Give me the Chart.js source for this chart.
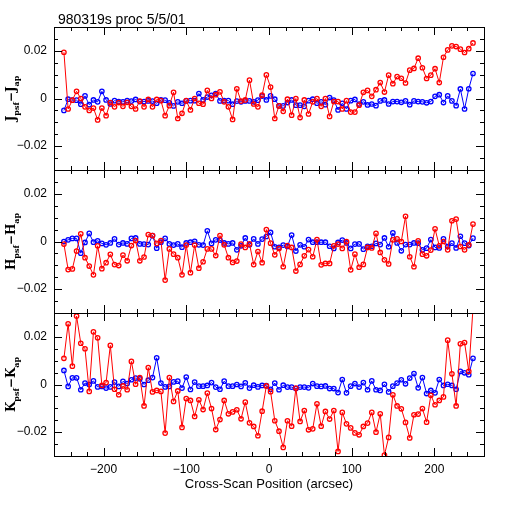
<!doctype html>
<html>
<head>
<script src="https://cdn.jsdelivr.net/npm/chart.js@4/dist/chart.umd.min.js"></script>
<style>
body { margin: 0; background: #fff; }
#wrap { position: relative; width: 512px; height: 512px; }
canvas { position: absolute; left: 0; top: 0; }
</style>
</head>
<body>
<div id="wrap">
	<canvas id="panelJ" width="512" height="512"></canvas>
	<canvas id="panelH" width="512" height="512"></canvas>
	<canvas id="panelK" width="512" height="512"></canvas>
</div>
<script>
// cross-scan positions (arcsec)
var xPos = [-248.0, -242.9, -237.8, -232.7, -227.6, -222.5, -217.4, -212.3, -207.2, -202.1,
	-197.0, -191.9, -186.8, -181.7, -176.6, -171.5, -166.4, -161.3, -156.2, -151.1,
	-146.0, -140.9, -135.8, -130.7, -125.6, -120.5, -115.4, -110.3, -105.2, -100.1,
	-95.0, -89.9, -84.8, -79.7, -74.6, -69.5, -64.4, -59.3, -54.2, -49.1,
	-44.0, -38.9, -33.8, -28.7, -23.6, -18.5, -13.4, -8.3, -3.2, 1.9,
	7.0, 12.1, 17.2, 22.3, 27.4, 32.5, 37.6, 42.7, 47.8, 52.9,
	58.0, 63.1, 68.2, 73.3, 78.4, 83.5, 88.6, 93.7, 98.8, 103.9,
	109.0, 114.1, 119.2, 124.3, 129.4, 134.5, 139.6, 144.7, 149.8, 154.9,
	160.0, 165.1, 170.2, 175.3, 180.4, 185.5, 190.6, 195.7, 200.8, 205.9,
	211.0, 216.1, 221.2, 226.3, 231.4, 236.5, 241.6, 246.7];

var jRed = [0.0194, -0.0044, -0.0007, 0.003, 0, -0.0035, -0.005, -0.004, -0.009, -0.004,
	-0.0072, -0.0017, -0.0035, -0.0017, -0.0033, -0.0016, -0.0033, -0.0044, -0.0011, -0.0035,
	-0.0004, -0.0035, -0.0004, -0.0009, -0.0072, -0.003, 0.0026, -0.0084, -0.0062, -0.0009,
	-0.0048, 0, -0.002, -0.0024, 0.0034, 0, 0.0016, 0.0028, -0.0014, -0.0035,
	-0.0088, 0.0041, -0.0011, -0.0006, 0.0077, -0.0023, -0.0035, 0.0014, 0.0099, 0.0048,
	-0.0084, -0.0031, -0.0054, -0.0003, -0.007, 0, -0.008, -0.0006, -0.0065, -0.0014,
	0, -0.0033, 0, -0.0075, -0.0013, -0.0013, -0.0044, -0.0009, -0.0057, -0.0057,
	-0.0028, 0.0026, 0.0034, 0.0009, 0.0037, 0.0067, 0.0027, 0.0098, 0.0062, 0.0092,
	0.0085, 0.0065, 0.0119, 0.0126, 0.0169, 0.0129, 0.0084, 0.0098, 0.0125, 0.0067,
	0.0173, 0.0204, 0.0221, 0.0218, 0.0207, 0.0193, 0.0209, 0.0233];
var jBlue = [-0.005, -0.0003, -0.0007, -0.0007, -0.0024, 0.0011, -0.0026, -0.0006, -0.0014, 0.003,
	-0.0006, -0.0023, -0.0009, -0.0013, -0.0014, -0.0009, -0.0011, -0.0004, -0.0013, -0.0013,
	-0.001, -0.0011, -0.002, -0.0006, -0.0007, -0.0018, -0.0031, -0.0014, -0.002, -0.001,
	-0.0009, -0.0009, 0.0021, -0.0006, 0.0006, 0.0013, 0.0021, -0.001, -0.0009, -0.0009,
	-0.0024, -0.0011, -0.0014, -0.001, -0.001, -0.0014, -0.0007, 0.001, -0.0006, 0.0011,
	-0.0003, -0.0031, -0.0031, -0.0017, -0.0006, -0.0028, -0.0028, -0.0033, -0.0009, -0.0003,
	-0.002, -0.0014, -0.0026, 0.0004, -0.0007, -0.0048, -0.002, -0.0044, -0.0009, -0.0004,
	-0.0023, -0.0014, -0.0027, -0.0023, -0.003, -0.001, -0.0006, -0.0023, -0.0013, -0.0013,
	-0.0016, -0.001, -0.0026, -0.001, -0.0013, -0.0014, -0.0018, -0.0013, 0.0009, 0.0016,
	-0.0017, 0.0011, -0.001, -0.003, 0.004, -0.0044, 0.0041, 0.0105];

var hRed = [-0.0011, -0.0118, -0.0115, -0.004, 0.0032, -0.0068, -0.0103, -0.014, -0.0018, -0.0114,
	-0.0089, -0.0054, -0.0097, -0.0101, -0.0057, -0.0081, -0.0017, 0.0004, -0.0081, -0.0065,
	0.0029, 0.0025, -0.0008, 0.0004, -0.0162, -0.0031, -0.0053, -0.0068, -0.014, -0.0015,
	-0.0131, -0.0015, -0.0112, -0.0085, -0.0031, -0.0031, -0.0059, 0.0025, -0.0014, -0.0068,
	-0.0088, -0.0082, -0.0011, -0.0025, -0.001, -0.0097, -0.0042, -0.0089, 0.005, -0.0007,
	-0.0056, -0.0029, -0.0106, -0.0017, -0.0025, -0.0124, -0.0096, -0.006, -0.0034, -0.0064,
	0.0008, -0.0098, -0.0092, -0.0092, -0.0018, -0.0011, -0.0029, 0, -0.0119, -0.0053,
	-0.0108, -0.0096, -0.0025, -0.0027, 0.0034, -0.0046, -0.0077, -0.0094, 0.0007, 0.0011,
	0, 0.0106, -0.0064, -0.0106, 0.0003, -0.0053, -0.006, -0.0036, 0.0053, -0.0018,
	0, -0.0035, 0.0087, 0.0094, -0.0021, -0.0035, -0.0014, 0.0073];
var hBlue = [0, 0.0007, 0.0013, 0.0013, -0.0049, -0.0004, 0.0034, -0.0003, 0.0003, -0.0008,
	-0.0014, -0.0006, 0.0011, -0.0013, -0.0006, -0.001, 0.0013, 0.0015, -0.001, -0.0011,
	-0.0013, 0.0025, -0.0028, -0.0003, 0.0013, -0.001, -0.0015, -0.001, -0.0024, -0.0006,
	-0.0003, 0.0001, -0.0014, -0.0015, 0.0045, -0.0008, 0.0007, 0.0006, -0.0006, -0.001,
	-0.0006, -0.0035, -0.0018, 0.0015, -0.0014, 0.0011, -0.001, 0.001, 0.0021, 0.0038,
	-0.0022, -0.0025, -0.0015, -0.0021, 0.0027, -0.004, -0.0014, -0.0022, 0.0008, -0.0003,
	-0.0003, -0.0003, -0.0003, -0.002, -0.0029, -0.0004, 0.0006, -0.0006, -0.0029, -0.0011,
	-0.001, -0.0032, -0.002, -0.002, -0.0008, -0.0013, 0.0015, -0.0022, 0.0036, -0.0006,
	-0.0039, -0.0013, -0.0013, -0.0006, -0.0007, -0.0035, -0.0028, 0.0008, -0.0025, -0.0027,
	0.0011, -0.0021, -0.0007, -0.0027, 0.0022, -0.0007, -0.0017, 0.0014];

var kRed = [0.011, 0.0255, 0.0077, 0.0287, 0.0173, 0.015, -0.0029, 0.0221, 0.0196, -0.0004,
	0.0008, 0.0164, -0.002, -0.0043, -0.0006, -0.0022, 0.0097, 0.0001, 0.0029, -0.009,
	0.0071, -0.0031, -0.0025, -0.0029, -0.0204, 0.0029, -0.0071, -0.0027, -0.018, -0.0059,
	-0.0067, -0.0134, -0.0064, -0.0105, -0.0036, -0.0101, -0.0189, -0.0147, -0.0067, -0.0123,
	-0.0115, -0.0106, -0.0144, -0.0074, -0.0161, -0.0176, -0.0215, -0.0112, -0.0006, -0.003,
	-0.0152, -0.0196, -0.0264, -0.0152, -0.0175, -0.0015, -0.0155, -0.0109, -0.019, -0.0186,
	-0.0081, -0.0175, -0.0113, -0.0145, -0.0109, -0.0281, -0.0117, -0.0165, -0.0182, -0.0203,
	-0.0211, -0.0176, -0.0162, -0.0117, -0.02, -0.0123, -0.0296, -0.0222, -0.0043, -0.009,
	-0.0102, -0.0159, -0.0224, -0.0127, -0.0124, -0.0101, -0.0158, -0.0045, -0.0085, -0.0067,
	-0.0052, 0.0186, 0.0045, -0.009, 0.0171, 0.0176, 0.0055, 0.032];
var kBlue = [0.0059, -0.0008, 0.0028, 0.0028, -0.0022, 0.0006, 0, 0.0015, -0.001, -0.0008,
	-0.0015, -0.001, 0.001, -0.0008, 0.0013, 0.0004, 0.002, 0.0027, 0.0024, 0,
	0.0018, 0.0029, 0.0112, 0.0006, -0.001, -0.0008, 0.0011, 0.0014, -0.0015, 0.0031,
	-0.0021, 0.001, -0.0007, -0.0007, -0.0004, 0.0008, -0.0011, -0.002, 0.0014, -0.0007,
	-0.0007, 0, -0.0008, 0.0007, -0.0015, -0.0003, -0.001, -0.0004, -0.0005, -0.002,
	0.0006, -0.0022, -0.0003, -0.0011, -0.0011, -0.0017, -0.0011, -0.0011, -0.0014, 0.0004,
	-0.0007, -0.0008, -0.0006, -0.0017, -0.0017, -0.0034, 0.0021, -0.0035, -0.0007, 0.0004,
	-0.0011, 0.0008, -0.0022, 0.0015, -0.0022, -0.0025, 0.0001, -0.0031, -0.0007, 0.0006,
	0.002, 0.0003, 0.0027, 0.0046, -0.0014, 0.0029, -0.0038, -0.0025, -0.0035, 0.0021,
	-0.0004, 0.0001, -0.0004, -0.002, 0.0055, 0.0049, 0.0041, 0.011];

var xTickValues = [-200, -100, 0, 100, 200];
var yTickValues = [-0.02, 0, 0.02];
var plotTitle = '980319s proc 5/5/01';
var xTitle = 'Cross-Scan Position (arcsec)';

function toPoints(vals) {
	return vals.map(function(v, i) { return {x: xPos[i], y: v}; });
}

function minusFmt(v, digits) {
	if (v === 0) return '0';
	return (v < 0 ? '\u2212' : '') + Math.abs(v).toFixed(digits);
}

// box around the plot with inward ticks on all four sides
var frameTicks = {
	id: 'frameTicks',
	afterDatasetsDraw: function(chart) {
		var a = chart.chartArea, ctx = chart.ctx;
		var xs = chart.scales.x, ys = chart.scales.y;
		ctx.save();
		ctx.strokeStyle = '#000';
		ctx.lineWidth = 1;
		ctx.strokeRect(a.left + 0.5, a.top + 0.5, a.right - a.left, a.bottom - a.top);
		ctx.beginPath();
		for (var v = -240; v <= 240; v += 20) {
			var px = Math.round(xs.getPixelForValue(v)) + 0.5;
			var len = (v % 100 === 0) ? 8 : 4;
			ctx.moveTo(px, a.top); ctx.lineTo(px, a.top + len);
			ctx.moveTo(px, a.bottom); ctx.lineTo(px, a.bottom - len);
		}
		for (var k = -5; k <= 5; k++) {
			var py = Math.round(ys.getPixelForValue(k * 0.005)) + 0.5;
			var len2 = (k % 4 === 0) ? 8 : 4;
			ctx.moveTo(a.left, py); ctx.lineTo(a.left + len2, py);
			ctx.moveTo(a.right, py); ctx.lineTo(a.right - len2, py);
		}
		ctx.stroke();
		ctx.restore();
	}
};

// rotated y label with subscripts, plus the run title on the top panel
var panelText = {
	id: 'panelText',
	afterDraw: function(chart) {
		var o = chart.options.plugins.panelText;
		var a = chart.chartArea, ctx = chart.ctx;
		ctx.save();
		ctx.fillStyle = '#000';
		var big = 'bold 12px "DejaVu Serif"', small = 'bold 8px "DejaVu Serif"';
		var parts = [[o.band, big, 0], [o.sub1, small, 4], ['\u2212' + o.band, big, 0], [o.sub2, small, 4]];
		var total = 0;
		parts.forEach(function(p) { ctx.font = p[1]; total += ctx.measureText(p[0]).width; });
		ctx.translate(15, (a.top + a.bottom) / 2);
		ctx.rotate(-Math.PI / 2);
		var cx = -total / 2;
		parts.forEach(function(p) {
			ctx.font = p[1];
			ctx.fillText(p[0], cx, p[2]);
			cx += ctx.measureText(p[0]).width;
		});
		ctx.restore();
		if (o.showTitle) {
			ctx.save();
			ctx.fillStyle = '#000';
			ctx.font = '14px "Liberation Sans"';
			ctx.fillText(plotTitle, 58, 24);
			ctx.restore();
		}
	}
};

function makePanel(id, top, bottom, red, blue, band, sub1, sub2, isBottom, showTitle) {
	var ctx = document.getElementById(id).getContext('2d');
	var axisH = isBottom ? 40 : 0;
	return new Chart(ctx, {
		type: 'line',
		data: {
			datasets: [{
				data: toPoints(red),
				borderColor: '#ff0000',
				borderWidth: 1,
				pointStyle: 'circle',
				pointRadius: 2.2,
				pointBorderWidth: 1.3,
				pointBorderColor: '#ff0000',
				pointBackgroundColor: 'rgba(255,255,255,0)'
			}, {
				data: toPoints(blue),
				borderColor: '#0000ff',
				borderWidth: 1,
				pointStyle: 'circle',
				pointRadius: 2.2,
				pointBorderWidth: 1.3,
				pointBorderColor: '#0000ff',
				pointBackgroundColor: 'rgba(255,255,255,0)'
			}]
		},
		options: {
			responsive: false,
			animation: false,
			devicePixelRatio: 1,
			layout: {
				padding: {left: 0, right: 28, top: top, bottom: 512 - bottom - axisH}
			},
			scales: {
				x: {
					type: 'linear',
					min: -260,
					max: 260,
					display: isBottom,
					afterBuildTicks: function(s) { s.ticks = xTickValues.map(function(v) { return {value: v}; }); },
					afterFit: function(s) { s.height = axisH; },
					grid: {display: false, drawTicks: false},
					border: {display: false},
					ticks: {
						padding: 6,
						maxRotation: 0,
						color: '#000',
						font: {family: 'Liberation Sans', size: 12},
						callback: function(v) { return minusFmt(v, 0); }
					},
					title: {
						display: true,
						text: xTitle,
						color: '#000',
						font: {family: 'Liberation Sans', size: 13},
						padding: {top: 4, bottom: 4}
					}
				},
				y: {
					type: 'linear',
					min: -0.03,
					max: 0.03,
					afterBuildTicks: function(s) { s.ticks = yTickValues.map(function(v) { return {value: v}; }); },
					afterFit: function(s) { s.width = 54; },
					grid: {display: false, drawTicks: false},
					border: {display: false},
					ticks: {
						padding: 7,
						color: '#000',
						font: {family: 'Liberation Sans', size: 12},
						callback: function(v) { return minusFmt(v, 2); }
					}
				}
			},
			plugins: {
				legend: {display: false},
				tooltip: {enabled: false},
				panelText: {band: band, sub1: sub1, sub2: sub2, showTitle: showTitle}
			}
		},
		plugins: [frameTicks, panelText]
	});
}

window.onload = function() {
	makePanel('panelJ', 27, 170, jRed, jBlue, 'J', 'psf', 'ap', false, true);
	makePanel('panelH', 170, 313, hRed, hBlue, 'H', 'psf', 'ap', false, false);
	makePanel('panelK', 313, 456, kRed, kBlue, 'K', 'psf', 'ap', true, false);
};
</script>
</body>
</html>
